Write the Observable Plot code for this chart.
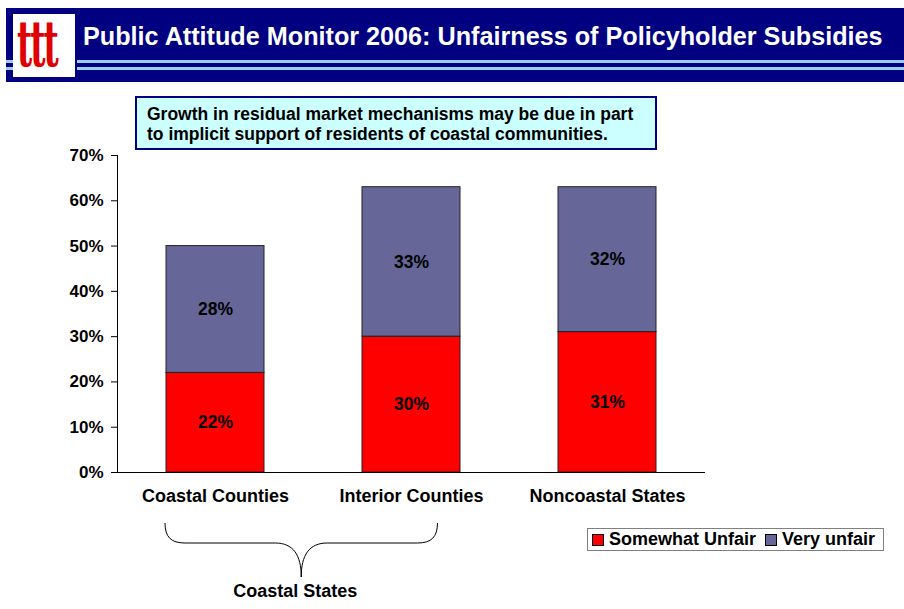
<!DOCTYPE html>
<html>
<head>
<meta charset="utf-8">
<script src="https://cdn.jsdelivr.net/npm/d3@7"></script>
<script src="https://cdn.jsdelivr.net/npm/@observablehq/plot@0.6"></script>
<style>
  body { margin: 0; background: #fff; font-family: "Liberation Sans", Arial, sans-serif; }
  #wrap { position: relative; width: 904px; height: 609px; overflow: hidden; }
  #header { position: absolute; left: 6px; top: 8px; width: 898px; height: 74px; background: #000080; }
  #logo { position: absolute; left: 7px; top: 6px; width: 62px; height: 63px; background: #fff; }
  #logo span { position: absolute; left: 4px; top: -3px; font: bold 33px "DejaVu Serif", serif; line-height: 1; color: #e00000; letter-spacing: -2px; transform: scaleY(1.95); transform-origin: left top; }
  #title { position: absolute; left: 77px; top: 14px; color: #fff; font: bold 25.2px "Liberation Sans", Arial, sans-serif; white-space: nowrap; }
  .hl { position: absolute; height: 2.5px; background: #99ccff; }
  #note { position: absolute; left: 135px; top: 96px; background: #ccffff; border: 2px solid #000080; box-sizing: border-box; width: 522px; height: 54px; padding: 6px 0 0 10px; font: bold 17.5px "Liberation Sans", Arial, sans-serif; line-height: 20px; color: #000; }
  #legend { position: absolute; left: 587px; top: 528px; width: 297px; height: 23px; border: 1px solid #808080; box-sizing: border-box; font: bold 18px "Liberation Sans", Arial, sans-serif; display: flex; align-items: center; padding-left: 4px; white-space: nowrap; }
  #legend .sw { display: inline-block; flex: none; width: 10px; height: 10px; border: 1px solid #000; margin-right: 5px; }
  #legend .item { display: flex; flex: none; align-items: center; margin-right: 9px; white-space: nowrap; }
  #plot { position: absolute; left: 0; top: 90px; }
</style>
</head>
<body>
<div id="wrap">
  <div id="header">
    <div id="logo"><span>ttt</span></div>
    <div class="hl" style="left:0;width:7px;top:52px"></div>
    <div class="hl" style="left:0;width:7px;top:59px"></div>
    <div class="hl" style="left:71px;right:0;top:52px"></div>
    <div class="hl" style="left:71px;right:0;top:59px"></div>
    <div id="title">Public Attitude Monitor 2006: Unfairness of Policyholder Subsidies</div>
  </div>
  <div id="plot"></div>
  <div id="note">Growth in residual market mechanisms may be due in part<br>to implicit support of residents of coastal communities.</div>
  <div id="legend"></div>
</div>
<script>
const categories = ["Coastal Counties", "Interior Counties", "Noncoastal States"];
const seriesNames = ["Somewhat Unfair", "Very unfair"];
const somewhatUnfair = [22, 30, 31];
const veryUnfair = [28, 33, 32];
const seriesColors = ["#ff0000", "#666699"];
const yTicks = [0, 10, 20, 30, 40, 50, 60, 70];
const groupLabel = "Coastal States";
const groupMembers = ["Coastal Counties", "Interior Counties"];

const data = [];
categories.forEach((c, i) => {
  data.push({category: c, series: seriesNames[0], value: somewhatUnfair[i]});
  data.push({category: c, series: seriesNames[1], value: veryUnfair[i]});
});

const font = "bold 18px 'Liberation Sans', Arial, sans-serif";

const plot = Plot.plot({
  width: 904,
  height: 519,
  marginLeft: 117,
  marginRight: 199,
  marginTop: 65,
  marginBottom: 137,
  style: {fontFamily: "'Liberation Sans', Arial, sans-serif", fontSize: "17px", fontWeight: "bold", color: "#000", background: "transparent", overflow: "visible"},
  x: {domain: categories, paddingInner: 0.5, paddingOuter: 0.25, label: null},
  y: {domain: [0, 70], label: null},
  color: {domain: seriesNames, range: seriesColors},
  marks: [
    Plot.barY(data, {x: "category", y: "value", fill: "series", z: "series", stroke: "#222", strokeWidth: 1}),
    Plot.text(data, Plot.stackY({x: "category", y: "value", z: "series", text: d => d.value + "%", fill: "#000", fontSize: 17.5, fontWeight: "bold"})),
    Plot.axisY({ticks: yTicks, tickFormat: d => d + "%", tickSize: 6, tickPadding: 8, fontSize: 17, fontWeight: "bold", label: null}),
    Plot.axisX({tickSize: 0, tickPadding: 17, fontSize: 18, fontWeight: "bold", label: null}),
    Plot.frame({anchor: "left", stroke: "#000"}),
    Plot.ruleY([0], {stroke: "#000"})
  ]
});
document.getElementById("plot").appendChild(plot);

// brace grouping the coastal-state categories, positioned via the plot's x scale
const xs = plot.scale("x");
const bw = xs.bandwidth;
const xa = xs.apply(groupMembers[0]) - 1;
const xb = xs.apply(groupMembers[groupMembers.length - 1]) + bw * 0.77;
const svg = d3.select(plot);
const braceTop = 433, hy = 453, braceBot = 487;
const mid = (xa + xb) / 2;
const r = 20;
const path = `M${xa},${braceTop} C${xa},${hy - 6} ${xa + 6},${hy} ${xa + r},${hy}
  L${mid - 26},${hy} C${mid - 8},${hy} ${mid},${hy + 12} ${mid},${braceBot}
  C${mid},${hy + 12} ${mid + 8},${hy} ${mid + 26},${hy}
  L${xb - r},${hy} C${xb - 6},${hy} ${xb},${hy - 6} ${xb},${braceTop}`;
svg.append("path").attr("d", path).attr("fill", "none").attr("stroke", "#000").attr("stroke-width", 1);
svg.append("text").attr("x", mid - 6).attr("y", 507).attr("text-anchor", "middle")
  .style("font", font).text(groupLabel);

// legend
const legend = document.getElementById("legend");
seriesNames.forEach((s, i) => {
  const item = document.createElement("span");
  item.className = "item";
  item.innerHTML = `<span class="sw" style="background:${seriesColors[i]}"></span>${s}`;
  legend.appendChild(item);
});
</script>
</body>
</html>
